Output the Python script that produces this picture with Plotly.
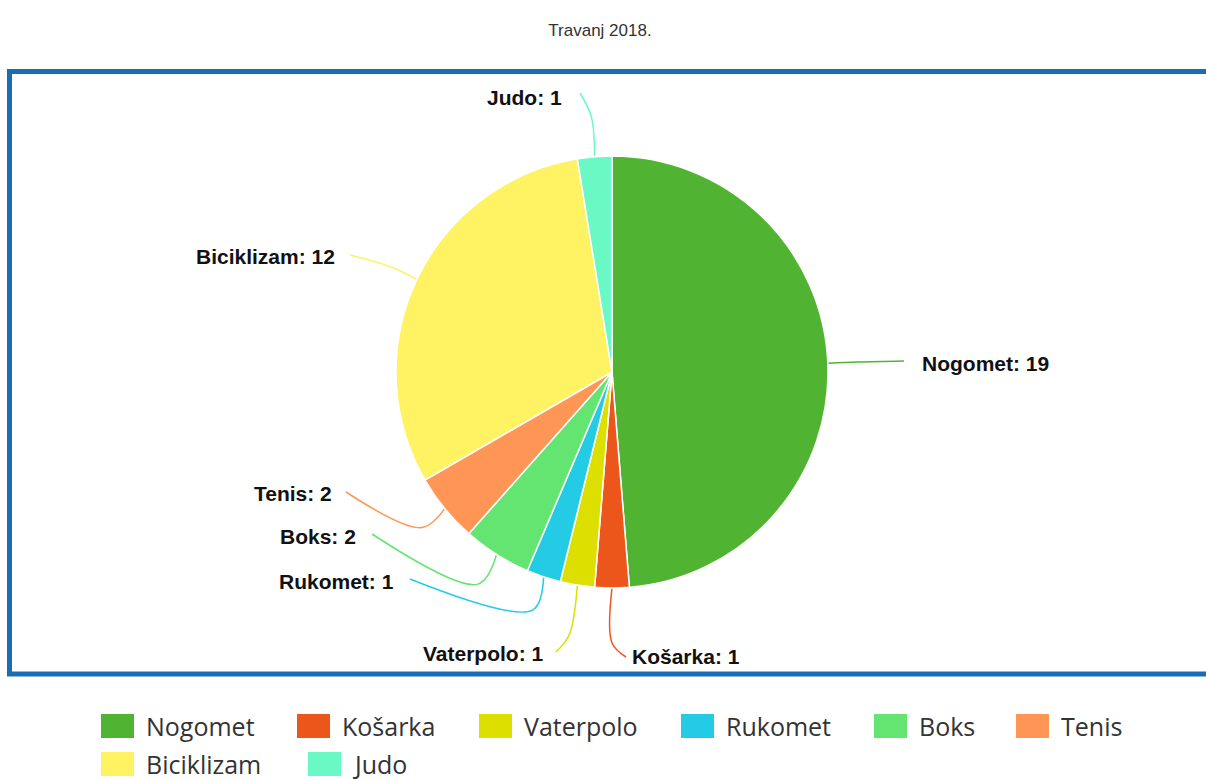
import math
import plotly.graph_objects as go

# ---------------- data ----------------
title_text = "Travanj 2018."
categories = ["Nogomet", "Košarka", "Vaterpolo", "Rukomet", "Boks", "Tenis", "Biciklizam", "Judo"]
values = [19, 1, 1, 1, 2, 2, 12, 1]
colors = ["#50B432", "#ED561B", "#DDDF00", "#24CBE5", "#64E572", "#FF9655", "#FFF263", "#6AF9C4"]

# ---------------- layout constants (pixels) ----------------
W, H = 1206, 780
CX, CY, R = 612, 372, 216

# label layout: text position / anchor side, connector start, break distance beyond radius
label_layout = {
    "Nogomet":    dict(tx=920, ty=363, side="left",  sx=904, sy=361, brk=30),
    "Košarka":    dict(tx=630, ty=656, side="left",  sx=626, sy=657, brk=55),
    "Vaterpolo":  dict(tx=546, ty=653, side="right", sx=556, sy=652, brk=50),
    "Rukomet":    dict(tx=396, ty=581, side="right", sx=410, sy=579, brk=35),
    "Boks":       dict(tx=358, ty=536, side="right", sx=372, sy=534, brk=35),
    "Tenis":      dict(tx=334, ty=493, side="right", sx=346, sy=492, brk=30),
    "Biciklizam": dict(tx=337, ty=256, side="right", sx=350, sy=255, brk=30),
    "Judo":       dict(tx=564, ty=97,  side="right", sx=580, sy=93,  brk=40),
}

legend_rows = [[0, 1, 2, 3, 4, 5], [6, 7]]
legend_x = [[101, 297, 479, 681, 874, 1016], [101, 308]]
legend_y = [726, 764]

fig = go.Figure()

# pie
fig.add_trace(go.Pie(
    labels=categories, values=values, sort=False, direction="clockwise", rotation=0,
    marker=dict(colors=colors, line=dict(color="#FFFFFF", width=1.5)),
    textinfo="none", showlegend=False,
    hovertemplate="%{label}: %{value}<extra></extra>",
    domain=dict(x=[(CX - R) / W, (CX + R) / W], y=[(H - CY - R) / H, (H - CY + R) / H]),
))

# connectors + labels derived from slice angles
total = sum(values)
cum = 0
annotations = []
for name, v, c in zip(categories, values, colors):
    mid = (cum + v / 2) / total * 2 * math.pi
    cum += v
    L = label_layout[name]
    ex, ey = CX + R * math.sin(mid), CY - R * math.cos(mid)
    rb = R + L["brk"]
    bx, by = CX + rb * math.sin(mid), CY - rb * math.cos(mid)
    fig.add_trace(go.Scatter(
        x=[L["sx"], bx, ex], y=[L["sy"], by, ey], mode="lines",
        line=dict(color=c, width=1.5, shape="spline", smoothing=1.0),
        hoverinfo="skip", showlegend=False,
    ))
    annotations.append(dict(
        x=L["tx"], y=L["ty"], xref="x", yref="y", showarrow=False,
        text=f"<b>{name}: {v}</b>", xanchor=L["side"], yanchor="middle",
        font=dict(family="Liberation Sans, Arial", size=21, color="#111111"),
    ))

# custom legend
shapes = [dict(type="rect", xref="x", yref="y", x0=9.5, x1=1212, y0=71.5, y1=674,
               line=dict(color="#1B6DB3", width=5), layer="below")]
for row, xs, yc in zip(legend_rows, legend_x, legend_y):
    for i, x0 in zip(row, xs):
        shapes.append(dict(type="rect", xref="x", yref="y", x0=x0, x1=x0 + 33,
                           y0=yc - 12, y1=yc + 12, fillcolor=colors[i], line=dict(width=0)))
        annotations.append(dict(
            x=x0 + 43, y=yc, xref="x", yref="y", showarrow=False, text=categories[i],
            xanchor="left", yanchor="middle",
            font=dict(family="Open Sans", size=25, color="#333333"),
        ))

fig.update_layout(
    width=W, height=H,
    margin=dict(l=0, r=0, t=0, b=0),
    paper_bgcolor="white", plot_bgcolor="white",
    title=dict(text=title_text, x=600 / W, xanchor="center", y=1 - 30 / H, yanchor="middle",
               font=dict(family="Liberation Sans, Arial", size=17, color="#333333")),
    xaxis=dict(range=[0, W], visible=False, fixedrange=True, domain=[0, 1]),
    yaxis=dict(range=[H, 0], visible=False, fixedrange=True, domain=[0, 1]),
    shapes=shapes, annotations=annotations,
    showlegend=False,
)

fig.write_html("out.html")
